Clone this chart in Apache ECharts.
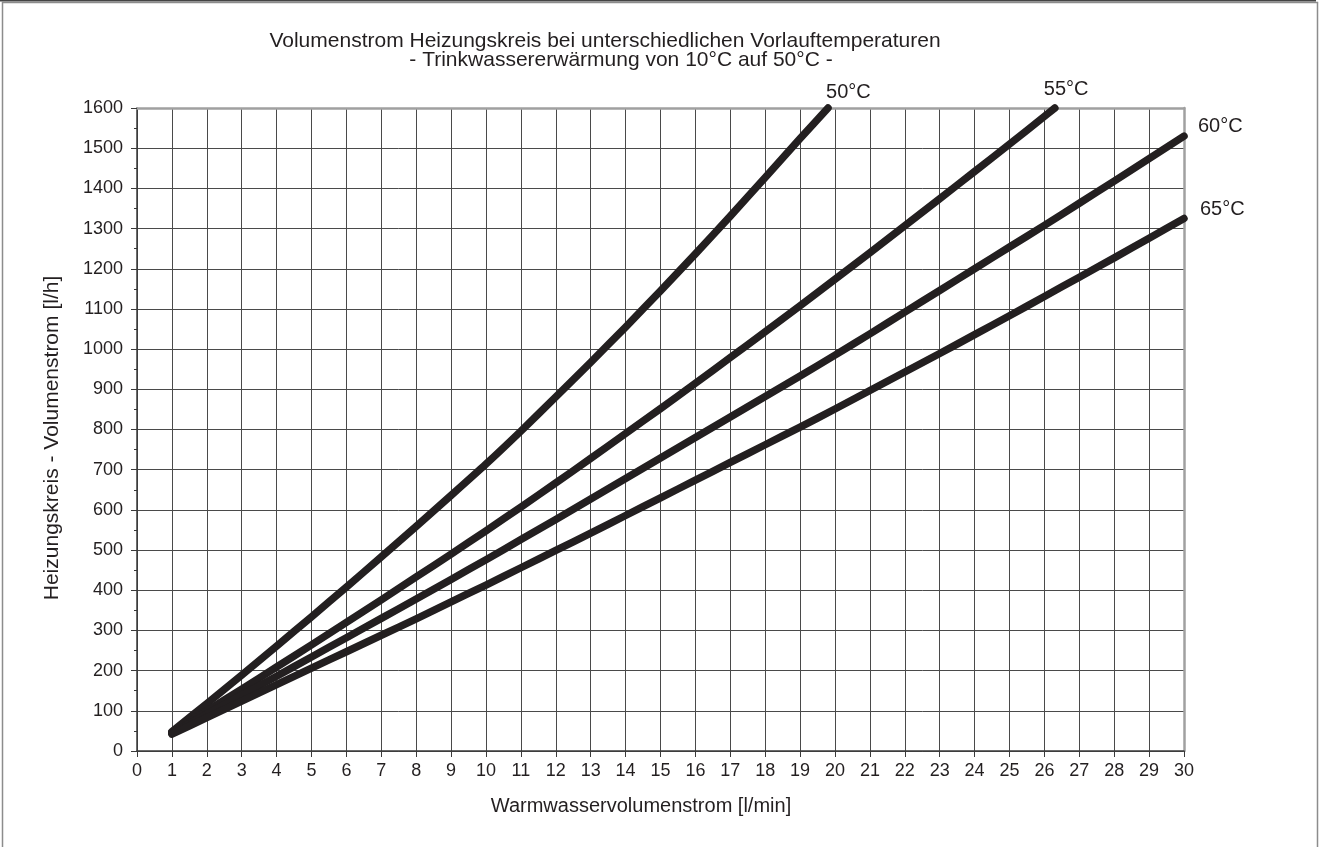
<!DOCTYPE html>
<html>
<head>
<meta charset="utf-8">
<script src="https://cdn.jsdelivr.net/npm/echarts@6/dist/echarts.min.js"></script>
<style>
html,body{margin:0;padding:0;background:#fff;}
#chart{width:1319px;height:847px;}
</style>
</head>
<body>
<div id="chart"></div>
<script>
// ---- data ----
const titleLine1 = 'Volumenstrom Heizungskreis bei unterschiedlichen Vorlauftemperaturen';
const titleLine2 = '- Trinkwassererwärmung von 10°C auf 50°C -';
const xAxisName = 'Warmwasservolumenstrom [l/min]';
const yAxisName = 'Heizungskreis - Volumenstrom [l/h]';
const seriesNames = ['50°C', '55°C', '60°C', '65°C'];

const x50 = [1, 2, 3, 4, 5, 6, 7, 8, 9, 10, 11, 12, 13, 14, 15, 16, 17, 18, 19, 19.8];
const y50 = [48, 118, 189, 261, 334, 408, 483, 559, 636, 714, 796, 881, 967, 1055, 1145, 1237, 1331, 1427, 1524, 1600];

const x55 = [1, 2, 3, 4, 5, 6, 7, 8, 9, 10, 11, 12, 13, 14, 15, 16, 17, 18, 19, 20, 21, 22, 23, 24, 25, 26, 26.3];
const y55 = [46, 100, 154, 209, 264, 320, 376, 433, 490, 548, 607, 667, 728, 790, 852, 915, 979, 1043, 1108, 1174, 1240, 1307, 1374, 1442, 1510, 1579, 1600];

const x60 = [1, 2, 3, 4, 5, 6, 7, 8, 9, 10, 11, 12, 13, 14, 15, 16, 17, 18, 19, 20, 21, 22, 23, 24, 25, 26, 27, 28, 29, 30];
const y60 = [44, 92, 139, 186, 234, 282, 330, 378, 427, 476, 526, 576, 627, 678, 729, 780, 831, 882, 933, 985, 1038, 1092, 1146, 1200, 1254, 1308, 1363, 1418, 1474, 1530];

const x65 = [1, 2, 3, 4, 5, 6, 7, 8, 9, 10, 11, 12, 13, 14, 15, 16, 17, 18, 19, 20, 21, 22, 23, 24, 25, 26, 27, 28, 29, 30];
const y65 = [42, 83, 124, 165, 206, 247, 288, 329, 371, 413, 456, 499, 542, 586, 630, 674, 718, 762, 806, 851, 897, 943, 989, 1036, 1083, 1131, 1179, 1227, 1276, 1325];

const xs = [x50, x55, x60, x65];
const ys = [y50, y55, y60, y65];

// ---- chart ----
const FONT = '"Liberation Sans", Arial, sans-serif';
const INK = '#231f20';
const endLabelOffsets = [[-2, -16], [-11, -19], [14, -10], [16, -9]];

const series = seriesNames.map((name, i) => ({
  name: name,
  type: 'line',
  data: xs[i].map((x, j) => [x, ys[i][j]]),
  showSymbol: false,
  symbol: 'none',
  smooth: 0.2,
  clip: false,
  lineStyle: {color: INK, width: 7.5, cap: 'round', join: 'round'},
  endLabel: {
    show: true, formatter: name, color: INK, fontSize: 20, fontFamily: FONT,
    distance: 0, align: 'left', verticalAlign: 'middle', offset: endLabelOffsets[i]
  },
  z: 5
}));

const chart = echarts.init(document.getElementById('chart'));
chart.setOption({
  animation: false,
  backgroundColor: '#fff',
  textStyle: {fontFamily: FONT, color: INK},
  grid: {left: 137, right: 135, top: 108, bottom: 96, containLabel: false},
  xAxis: [{
    type: 'value', min: 0, max: 30, interval: 1,
    axisLine: {show: true, lineStyle: {color: '#3a3a3a', width: 1.5}},
    axisTick: {show: true, length: 6, lineStyle: {color: '#3a3a3a', width: 1}},
    axisLabel: {fontSize: 18, color: INK, margin: 11, fontFamily: FONT},
    splitLine: {show: true, lineStyle: {color: '#4a4a4a', width: 1}}
  }, {
    type: 'value', min: 0, max: 30, interval: 1, position: 'top',
    axisLine: {show: true, onZero: false, lineStyle: {color: '#a0a0a0', width: 2.5}},
    axisTick: {show: false}, axisLabel: {show: false}, splitLine: {show: false}
  }],
  yAxis: [{
    type: 'value', min: 0, max: 1600, interval: 100,
    axisLine: {show: true, lineStyle: {color: '#3a3a3a', width: 1.5}},
    axisTick: {show: true, length: 6, lineStyle: {color: '#3a3a3a', width: 1}},
    minorTick: {show: true, splitNumber: 2, length: 3, lineStyle: {color: '#3a3a3a', width: 1}},
    axisLabel: {fontSize: 18, color: INK, margin: 14, fontFamily: FONT, formatter: v => String(v)},
    splitLine: {show: true, lineStyle: {color: '#4a4a4a', width: 1}}
  }, {
    type: 'value', min: 0, max: 1600, interval: 100, position: 'right',
    axisLine: {show: true, onZero: false, lineStyle: {color: '#a0a0a0', width: 2.5}},
    axisTick: {show: false}, axisLabel: {show: false}, splitLine: {show: false}
  }],
  graphic: [
    {type: 'rect', left: 0, top: 0, z: -1, silent: true,
     shape: {x: 0.5, y: 0.5, width: 1315, height: 900},
     style: {fill: 'none', stroke: '#8c8c8c', lineWidth: 1.5}},
    {type: 'line', z: -1, silent: true,
     shape: {x1: 0, y1: 0.75, x2: 1316, y2: 0.75},
     style: {stroke: '#444444', lineWidth: 1.5}},
    {type: 'text', x: 605, y: 41, silent: true,
     style: {text: titleLine1, font: '21px ' + FONT, fill: INK, textAlign: 'center', textVerticalAlign: 'middle'}},
    {type: 'text', x: 621, y: 60, silent: true,
     style: {text: titleLine2, font: '21px ' + FONT, fill: INK, textAlign: 'center', textVerticalAlign: 'middle'}},
    {type: 'text', x: 641, y: 806, silent: true,
     style: {text: xAxisName, font: '20px ' + FONT, fill: INK, textAlign: 'center', textVerticalAlign: 'middle'}},
    {type: 'text', x: 52, y: 438, rotation: Math.PI / 2, silent: true,
     style: {text: yAxisName, font: '21px ' + FONT, fill: INK, textAlign: 'center', textVerticalAlign: 'middle'}}
  ],
  series: series
});
</script>
</body>
</html>
